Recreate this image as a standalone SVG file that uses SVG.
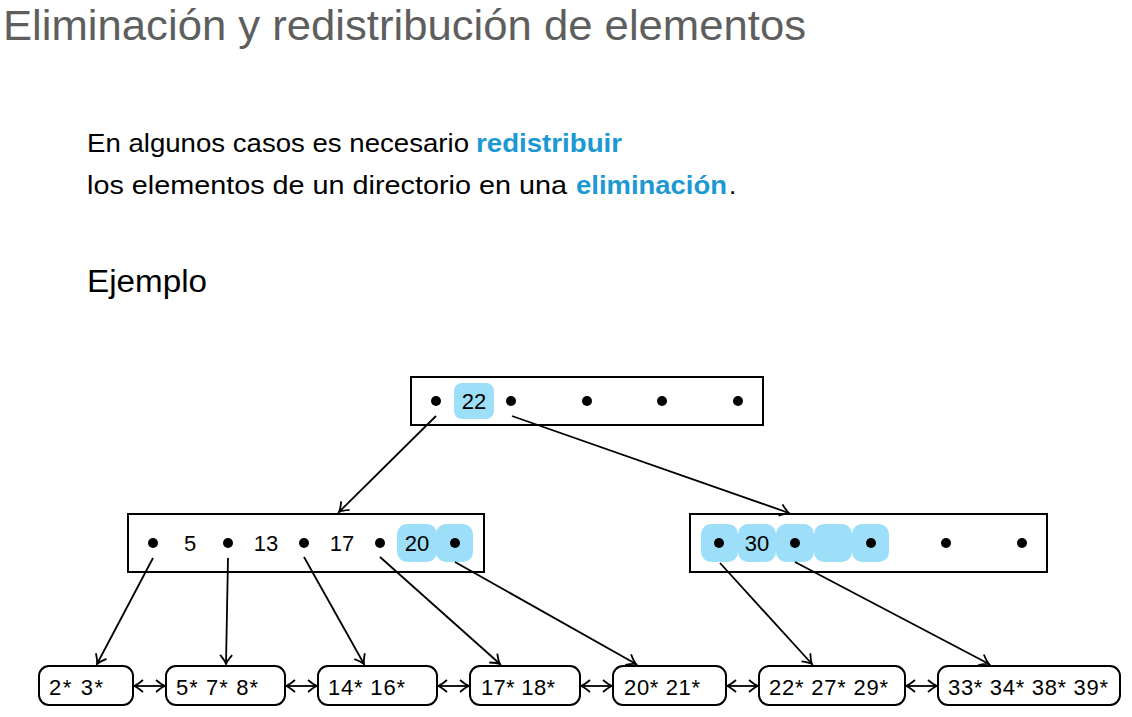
<svg xmlns="http://www.w3.org/2000/svg" width="1132" height="717" viewBox="0 0 1132 717">
<style>
.t{font-family:"Liberation Sans",Arial,sans-serif}
.title{font-size:42px;fill:#5e5e5e}
.body{font-size:26px;fill:#000}
.hl{font-weight:bold;fill:#1c98d3}
.box{fill:#fff;stroke:#000;stroke-width:2}
.leaf{fill:#fff;stroke:#000;stroke-width:2}
.hi{fill:#9ddff8}
.dot{fill:#000}
.lbl{font-size:22px;fill:#000;text-anchor:middle}
.ltxt{font-size:22px;fill:#000}
.edge{stroke:#000;stroke-width:1.8;fill:none;marker-end:url(#ah)}
.bi{stroke:#000;stroke-width:1.8;fill:none;marker-end:url(#ah);marker-start:url(#ah)}
</style>
<defs>
<marker id="ah" viewBox="-10 -7 12 14" refX="0" refY="0" markerWidth="12" markerHeight="14" markerUnits="userSpaceOnUse" orient="auto-start-reverse">
<path d="M-9,-6 Q-3,-1 0,0 Q-3,1 -9,6" fill="none" stroke="#000" stroke-width="1.8"/>
</marker>
</defs>
<text class="t title" x="3" y="40" textLength="803" lengthAdjust="spacingAndGlyphs">Eliminación y redistribución de elementos</text>
<text class="t body" x="87" y="152" textLength="382" lengthAdjust="spacingAndGlyphs">En algunos casos es necesario</text>
<text class="t body hl" x="476" y="152" textLength="146" lengthAdjust="spacingAndGlyphs">redistribuir</text>
<text class="t body" x="87" y="194" textLength="480" lengthAdjust="spacingAndGlyphs">los elementos de un directorio en una</text>
<text class="t body hl" x="576" y="194" textLength="151" lengthAdjust="spacingAndGlyphs">eliminación</text>
<text class="t body" x="729" y="194">.</text>
<text class="t" x="87" y="292" font-size="31" textLength="120" lengthAdjust="spacingAndGlyphs">Ejemplo</text>

<g id="root">
<rect class="box" x="411" y="377" width="352" height="48"/>
<rect class="hi" x="454" y="383" width="40" height="36" rx="8"/>
<circle class="dot" cx="436" cy="401" r="5"/>
<text class="t lbl" x="474" y="409">22</text>
<circle class="dot" cx="511" cy="401" r="5"/>
<circle class="dot" cx="587" cy="401" r="5"/>
<circle class="dot" cx="662" cy="401" r="5"/>
<circle class="dot" cx="738" cy="401" r="5"/>
</g>

<g id="left-dir">
<rect class="box" x="128" y="514" width="356" height="58"/>
<rect class="hi" x="397" y="524" width="40" height="38" rx="10"/>
<rect class="hi" x="436" y="524" width="37" height="38" rx="10"/>
<circle class="dot" cx="153" cy="543" r="5"/>
<text class="t lbl" x="190" y="551">5</text>
<circle class="dot" cx="228" cy="543" r="5"/>
<text class="t lbl" x="266" y="551">13</text>
<circle class="dot" cx="304" cy="543" r="5"/>
<text class="t lbl" x="342" y="551">17</text>
<circle class="dot" cx="380" cy="543" r="5"/>
<text class="t lbl" x="417" y="551">20</text>
<circle class="dot" cx="455" cy="543" r="5"/>
</g>

<g id="right-dir">
<rect class="box" x="690" y="514" width="357" height="58"/>
<rect class="hi" x="701" y="524" width="37" height="38" rx="10"/>
<rect class="hi" x="738" y="524" width="38" height="38" rx="10"/>
<rect class="hi" x="776" y="524" width="38" height="38" rx="10"/>
<rect class="hi" x="814" y="524" width="38" height="38" rx="10"/>
<rect class="hi" x="852" y="524" width="37" height="38" rx="10"/>
<circle class="dot" cx="719" cy="543" r="5"/>
<text class="t lbl" x="757" y="551">30</text>
<circle class="dot" cx="795" cy="543" r="5"/>
<circle class="dot" cx="871" cy="543" r="5"/>
<circle class="dot" cx="946" cy="543" r="5"/>
<circle class="dot" cx="1022" cy="543" r="5"/>
</g>

<g id="leaf1"><rect class="leaf" x="39" y="666" width="94" height="39" rx="10"/><text class="t ltxt" x="49" y="695" textLength="54" lengthAdjust="spacing">2* 3*</text></g>
<g id="leaf2"><rect class="leaf" x="166" y="666" width="119" height="39" rx="10"/><text class="t ltxt" x="176" y="695" textLength="82" lengthAdjust="spacing">5* 7* 8*</text></g>
<g id="leaf3"><rect class="leaf" x="318" y="666" width="119" height="39" rx="10"/><text class="t ltxt" x="328" y="695" textLength="77" lengthAdjust="spacing">14* 16*</text></g>
<g id="leaf4"><rect class="leaf" x="470" y="666" width="110" height="39" rx="10"/><text class="t ltxt" x="481" y="695" textLength="74" lengthAdjust="spacing">17* 18*</text></g>
<g id="leaf5"><rect class="leaf" x="613" y="666" width="113" height="39" rx="10"/><text class="t ltxt" x="624" y="695" textLength="76" lengthAdjust="spacing">20* 21*</text></g>
<g id="leaf6"><rect class="leaf" x="759" y="666" width="146" height="39" rx="10"/><text class="t ltxt" x="769" y="695" textLength="119" lengthAdjust="spacing">22* 27* 29*</text></g>
<g id="leaf7"><rect class="leaf" x="938" y="666" width="182" height="39" rx="10"/><text class="t ltxt" x="948" y="695" textLength="160" lengthAdjust="spacing">33* 34* 38* 39*</text></g>

<g id="connectors">
<line class="edge" x1="436" y1="416" x2="339" y2="512"/>
<line class="edge" x1="512" y1="416" x2="789" y2="513"/>
<line class="edge" x1="153" y1="558" x2="97" y2="664"/>
<line class="edge" x1="228" y1="558" x2="226" y2="664"/>
<line class="edge" x1="304" y1="557" x2="364" y2="664"/>
<line class="edge" x1="380" y1="557" x2="500" y2="664"/>
<line class="edge" x1="455" y1="562" x2="636" y2="664"/>
<line class="edge" x1="720" y1="563" x2="812" y2="664"/>
<line class="edge" x1="795" y1="562" x2="989" y2="664"/>
<line class="bi" x1="134" y1="686" x2="165" y2="686"/>
<line class="bi" x1="286" y1="686" x2="317" y2="686"/>
<line class="bi" x1="438" y1="686" x2="469" y2="686"/>
<line class="bi" x1="581" y1="686" x2="612" y2="686"/>
<line class="bi" x1="727" y1="686" x2="758" y2="686"/>
<line class="bi" x1="906" y1="686" x2="937" y2="686"/>
</g>
</svg>
